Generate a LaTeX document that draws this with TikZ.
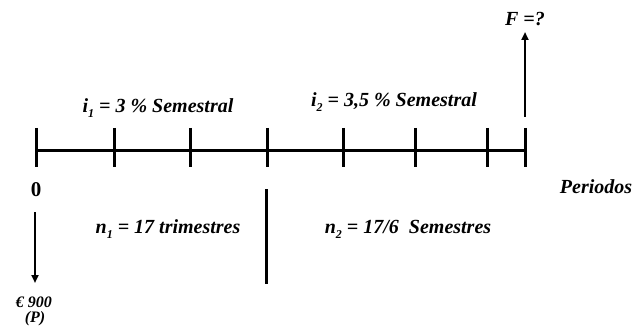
\documentclass[tikz,border=0pt]{standalone}
\usepackage{fontspec}
\setmainfont{Liberation Serif}
\usetikzlibrary{arrows.meta}
\newcommand{\lowsub}[1]{\raisebox{-5pt}{\fontsize{12}{12}\selectfont #1}}
\begin{document}
\begin{tikzpicture}[x=1pt,y=-1pt,
  axisline/.style={line width=3pt},
  tickline/.style={line width=3pt},
  flowarrow/.style={line width=2.6pt,-{Triangle[width=7pt,length=8pt]}},
  lbl/.style={font=\fontsize{20}{22}\selectfont\bfseries\itshape,inner sep=0pt},
  plbl/.style={font=\fontsize{16}{16}\selectfont\bfseries\itshape,inner sep=0pt,anchor=base}]
\useasboundingbox (0,0) rectangle (634,326);
% axis
\coordinate (a0) at (36,150);
\coordinate (aend) at (525,150);
\draw[axisline] (a0) -- (aend);
\foreach \x/\n in {36/t0,114/t1,190/t2,267/t3,343/t4,415/t5,487/t6,525/t7}{
  \coordinate (\n top) at (\x,128);
  \coordinate (\n bot) at (\x,167);
  \draw[tickline] (\n top) -- (\n bot);
}
% labels
\node[lbl] (ione) at (158,108) {i\lowsub{1} = 3 \% Semestral};
\node[lbl] (itwo) at (394,102) {i\lowsub{2} = 3,5 \% Semestral};
\node[lbl,font=\fontsize{21}{22}\selectfont\bfseries] (zero) at (36,190) {0};
\node[lbl] (per) at (596,187) {Periodos};
\node[lbl] (none) at (168,229) {n\lowsub{1} = 17 trimestres};
\node[lbl] (ntwo) at (408,229) {n\lowsub{2} = 17/6~ Semestres};
\node[lbl] (F) at (525,19) {F =?};
\node[plbl] (P1) at (34,307) {€ 900};
\node[plbl] (P2) at (35,322) {(P)};
% arrows
\coordinate (pstart) at (35,212);
\coordinate (pend) at (35,283);
\draw[flowarrow] (pstart) -- (pend);
\coordinate (fstart) at (525,117);
\coordinate (fend) at (525,32);
\draw[flowarrow] (fstart) -- (fend);
% divider
\coordinate (dtop) at (266,189);
\coordinate (dbot) at (266,284);
\draw[tickline] (dtop) -- (dbot);
\end{tikzpicture}
\end{document}
